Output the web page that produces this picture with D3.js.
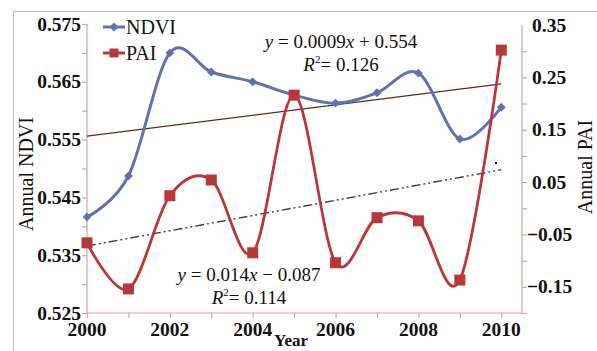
<!DOCTYPE html>
<html><head><meta charset="utf-8">
<script src="https://cdn.jsdelivr.net/npm/d3@7"></script>
<style>body{margin:0;background:#fff;}svg{display:block;}</style>
</head><body><svg id="c" width="597" height="351"></svg>
<script>
const years = [2000,2001,2002,2003,2004,2005,2006,2007,2008,2009,2010];
const ndvi = [0.5416,0.5487,0.5700,0.5667,0.5650,0.5627,0.5613,0.5631,0.5665,0.5551,0.5606];
const pai  = [-0.066,-0.154,0.024,0.054,-0.085,0.216,-0.104,-0.018,-0.024,-0.137,0.302];
const leftTicks = [0.525,0.535,0.545,0.555,0.565,0.575];
const rightTicks = [-0.15,-0.05,0.05,0.15,0.25,0.35];
const yearTicks = [2000,2002,2004,2006,2008,2010];
const seriesNames = ["NDVI","PAI"];
const eqNdvi = {slope:"0.0009", sign:"+", icpt:"0.554", r2:"0.126"};
const eqPai = {slope:"0.014", sign:"\u2212", icpt:"0.087", r2:"0.114"};

const svg = d3.select("#c");
const blue = "#6272ad", red = "#b8383a", axisCol = "#c9aaa5";
const serif = "'Liberation Serif','DejaVu Serif',serif";

// outer frame
svg.append("rect").attr("x",13.5).attr("y",11.5).attr("width",600).attr("height",400)
  .attr("fill","none").attr("stroke","#cdb5ae").attr("stroke-width",1);

const x = d3.scaleLinear().domain([2000,2010.5]).range([87,522]);
const yL = d3.scaleLinear().domain([0.525,0.575]).range([313,24]);
const yR = d3.scaleLinear().domain([-0.2,0.35]).range([313,25]);

// axes
const gx = svg.append("g").attr("transform","translate(0,313)")
  .call(d3.axisBottom(x).tickValues(d3.range(2000,2011,1)).tickSize(5).tickFormat(""));
const gl = svg.append("g").attr("transform","translate(87,0)")
  .call(d3.axisLeft(yL).tickValues(d3.range(0,11).map(i=>0.525+i*0.005)).tickSize(5).tickFormat(""));
const gr = svg.append("g").attr("transform","translate(522,0)")
  .call(d3.axisRight(yR).tickValues(d3.range(0,11).map(i=>-0.2+i*0.05)).tickSize(5).tickFormat(""));
[gx,gl,gr].forEach(g=>{
  g.select(".domain").attr("stroke",axisCol).attr("stroke-width",1.2).attr("d", null);
  g.selectAll(".tick line").attr("stroke",axisCol).attr("stroke-width",1.2);
});
gx.select(".domain").attr("d","M87,0H522");
gl.select(".domain").attr("d","M0,313V24");
gr.select(".domain").attr("d","M0,313V25");

// tick labels
svg.append("g").selectAll("text").data(leftTicks).join("text")
  .attr("x",81).attr("y",d=>yL(d)+6.5).attr("text-anchor","end")
  .attr("font-family",serif).attr("font-weight","bold").attr("font-size",19.5).attr("fill","#111")
  .text(d=>d3.format(".3f")(d));
svg.append("g").selectAll("text").data(rightTicks).join("text")
  .attr("x",d=>d<0?527:532).attr("y",d=>yR(d)+6.5).attr("text-anchor","start")
  .attr("font-family",serif).attr("font-weight","bold").attr("font-size",19.5).attr("fill","#111")
  .text(d=>d3.format(".2f")(d).replace("-","\u2212"));
svg.append("g").selectAll("text").data(yearTicks).join("text")
  .attr("x",d=>x(d)).attr("y",336).attr("text-anchor","middle")
  .attr("font-family",serif).attr("font-weight","bold").attr("font-size",19.5).attr("fill","#111")
  .text(d=>d);

// axis titles
svg.append("text").attr("transform","translate(33,174) rotate(-90)").attr("text-anchor","middle")
  .attr("font-family",serif).attr("font-size",20).attr("fill","#111").text("Annual NDVI");
svg.append("text").attr("transform","translate(592,167) rotate(-90)").attr("text-anchor","middle")
  .attr("font-family",serif).attr("font-size",20).attr("fill","#111").text("Annual PAI");
svg.append("text").attr("x",291).attr("y",346).attr("text-anchor","middle")
  .attr("font-family",serif).attr("font-weight","bold").attr("font-size",17).attr("fill","#111").text("Year");

// regression
function reg(xs, ys){
  const mx=d3.mean(xs), my=d3.mean(ys);
  const s=d3.sum(xs,(v,i)=>(v-mx)*(ys[i]-my))/d3.sum(xs,v=>(v-mx)*(v-mx));
  return [s, my-s*mx];
}
const [sN,iN] = reg(years, ndvi);
const [sP,iP] = reg(years, pai);
const x0=years[0], x1=years[years.length-1];
svg.append("line").attr("x1",x(x0)).attr("x2",x(x1)).attr("y1",yL(sN*x0+iN)).attr("y2",yL(sN*x1+iN))
  .attr("stroke","#5a2a22").attr("stroke-width",1.2);
svg.append("line").attr("x1",x(x0)).attr("x2",x(x1)).attr("y1",yR(sP*x0+iP)).attr("y2",yR(sP*x1+iP))
  .attr("stroke","#4a3a36").attr("stroke-width",1.4).attr("stroke-dasharray","9,3,2,3,2,3");
svg.append("rect").attr("x",495).attr("y",162).attr("width",2).attr("height",2).attr("fill","#111");

// series
const curve = d3.curveCardinal.tension(0);
const pts = (arr)=>years.map((yr,i)=>[yr,arr[i]]);
svg.append("path").datum(pts(ndvi)).attr("fill","none").attr("stroke",blue).attr("stroke-width",3)
  .attr("d",d3.line().x(d=>x(d[0])).y(d=>yL(d[1])).curve(curve));
svg.append("path").datum(pts(pai)).attr("fill","none").attr("stroke",red).attr("stroke-width",2.8)
  .attr("d",d3.line().x(d=>x(d[0])).y(d=>yR(d[1])).curve(curve));
const diamond = d3.symbol().type(d3.symbolDiamond2).size(50);
svg.append("g").selectAll("path").data(pts(ndvi)).join("path")
  .attr("transform",d=>`translate(${x(d[0])},${yL(d[1])})`).attr("d",diamond).attr("fill",blue);
svg.append("g").selectAll("rect").data(pts(pai)).join("rect")
  .attr("x",d=>x(d[0])-5.5).attr("y",d=>yR(d[1])-5.5).attr("width",11).attr("height",11).attr("fill",red);

// legend
const leg = svg.append("g");
[[27,blue,"d"],[53,red,"s"]].forEach(([yy,col,t],i)=>{
  leg.append("line").attr("x1",103).attr("x2",125).attr("y1",yy).attr("y2",yy).attr("stroke",col).attr("stroke-width",3);
  if(t==="d") leg.append("path").attr("transform",`translate(114,${yy})`).attr("d",diamond).attr("fill",col);
  else leg.append("rect").attr("x",109.5).attr("y",yy-4.5).attr("width",9).attr("height",9).attr("fill",col);
  leg.append("text").attr("x",126).attr("y",yy+7).attr("font-family",serif).attr("font-size",20).attr("fill","#111").text(seriesNames[i]);
});

// equations
function eq(cx, by, e){
  const t = svg.append("text").attr("x",cx).attr("y",by).attr("text-anchor","middle")
    .attr("font-family",serif).attr("font-size",19).attr("fill","#111");
  t.append("tspan").attr("font-style","italic").text("y");
  t.append("tspan").text(" = " + e.slope);
  t.append("tspan").attr("font-style","italic").text("x");
  t.append("tspan").text(" " + e.sign + " " + e.icpt);
  const r = svg.append("text").attr("x",cx).attr("y",by+23).attr("text-anchor","middle")
    .attr("font-family",serif).attr("font-size",19).attr("fill","#111");
  r.append("tspan").attr("font-style","italic").text("R");
  r.append("tspan").attr("font-size",11).attr("dy",-8).text("2");
  r.append("tspan").attr("dy",8).text("= " + e.r2);
}
eq(341, 48, eqNdvi);
eq(249, 281, eqPai);
</script></body></html>
